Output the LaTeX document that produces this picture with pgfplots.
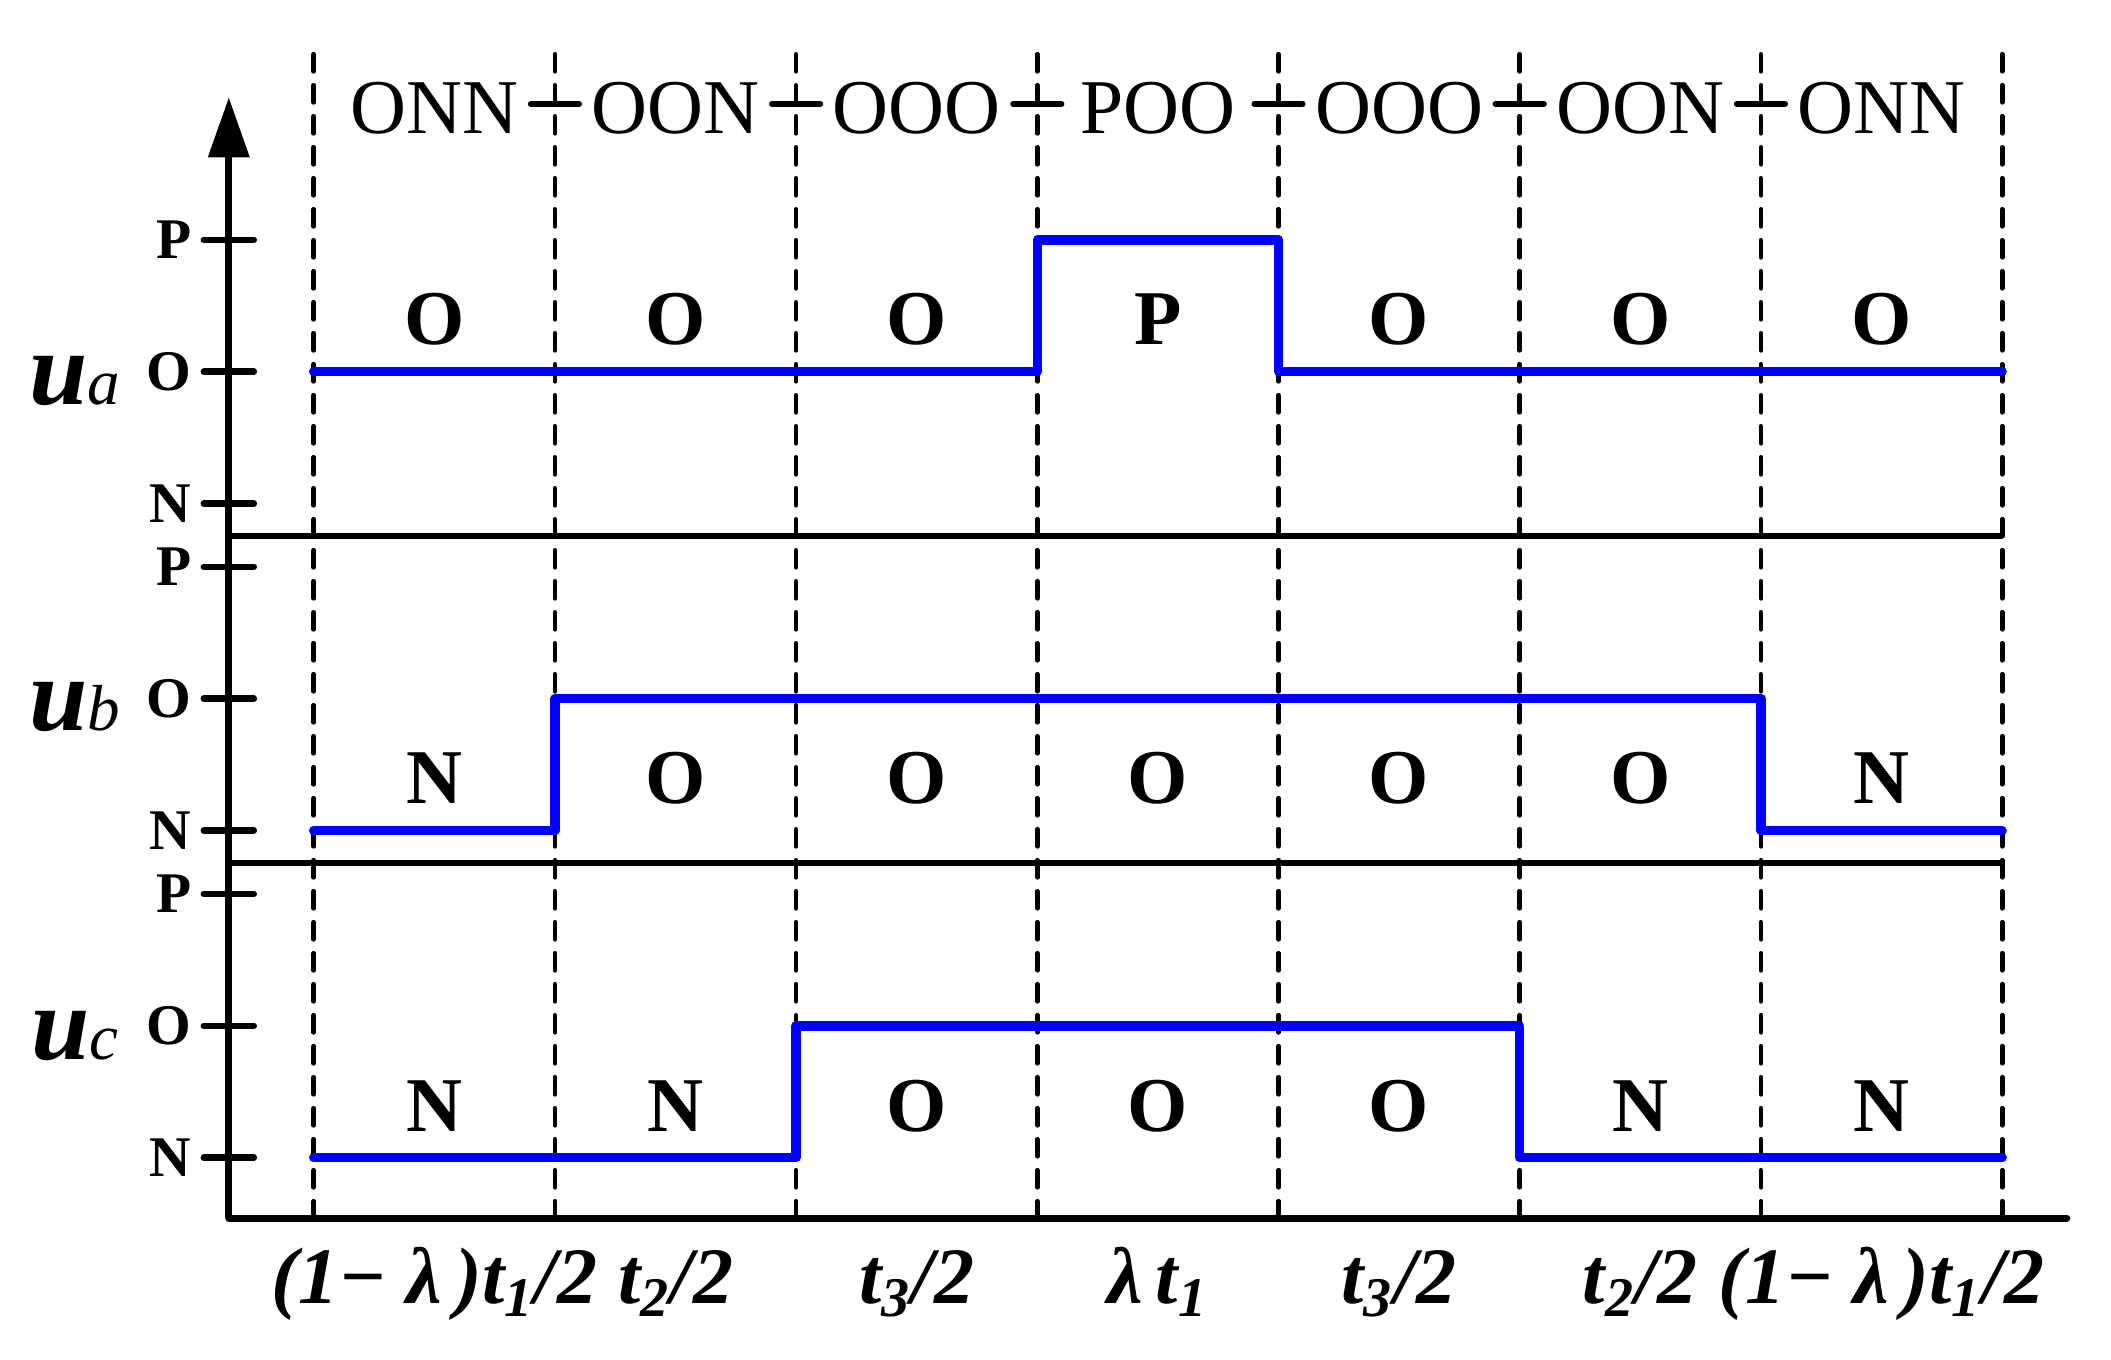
\documentclass[border=0pt]{standalone}
\usepackage{fontspec}
\setmainfont{Liberation Serif}
\usepackage{pgfplots}
\pgfplotsset{compat=1.18}
\usetikzlibrary{arrows.meta}
\definecolor{wave}{RGB}{0,0,255}

% one panel = 2 level units (N, O, P); panels stacked with offset 2.48
\begin{document}
\begin{tikzpicture}[
  seq/.style={font=\fontsize{15.5}{18}\selectfont},
  lev/.style={font=\fontsize{15.5}{18}\selectfont\bfseries}]
\begin{axis}[
  scale only axis, width=367.6pt, height=224.2pt,
  xmin=-0.352, xmax=7.268, ymin=-0.459, ymax=8.04,
  axis x line=bottom, axis y line=left,
  x axis line style={-, line width=1.4pt, line cap=round},
  y axis line style={-{Triangle[length=12pt,width=8pt]}, line width=1.4pt},
  clip=false, unbounded coords=jump,
  tick align=center, major tick length=10pt,
  xtick={0.5,1.5,2.5,3.5,4.5,5.5,6.5},
  xticklabels={{(1− λ\,)t\textsubscript{1}/2},{t\textsubscript{2}/2},{t\textsubscript{3}/2},{λ\,t\textsubscript{1}},{t\textsubscript{3}/2},{t\textsubscript{2}/2},{(1− λ\,)t\textsubscript{1}/2}},
  xtick style={draw=none},
  xticklabel style={font=\fontsize{16}{18}\selectfont\bfseries\itshape, anchor=base, yshift=-12pt},
  ytick={0,1,2,2.48,3.48,4.48,4.96,5.96,6.96},
  yticklabels={N,O,P,N,O,P,N,O,P},
  ytick style={line width=1.3pt, line cap=round, black},
  yticklabel style={font=\fontsize{11.5}{13}\selectfont\bfseries, xshift=1pt},
]
% frame of the picture
\addplot[draw=none] coordinates {(-1.3006,-1.533) (7.4515,8.778)};

% interval boundaries
\addplot[black, line width=0.95pt, line cap=round, dash pattern=on 3.4pt off 2.8pt] coordinates {
  (0,-0.459) (0,8.37) (0,nan)
  (1,-0.459) (1,8.37) (1,nan)
  (2,-0.459) (2,8.37) (2,nan)
  (3,-0.459) (3,8.37) (3,nan)
  (4,-0.459) (4,8.37) (4,nan)
  (5,-0.459) (5,8.37) (5,nan)
  (6,-0.459) (6,8.37) (6,nan)
  (7,-0.459) (7,8.37)};

% panel separators
\addplot[black, line width=1.15pt] coordinates {
  (-0.352,4.714) (7,4.714) (0,nan) (-0.352,2.235) (7,2.235)};

% short dashes between the switching states
\addplot[black, line width=1.2pt, line cap=round] coordinates {
  (0.9,7.99) (1.1,7.99) (1,nan)
  (1.9,7.99) (2.1,7.99) (2,nan)
  (2.9,7.99) (3.1,7.99) (3,nan)
  (3.9,7.99) (4.1,7.99) (4,nan)
  (4.9,7.99) (5.1,7.99) (5,nan)
  (5.9,7.99) (6.1,7.99)};

% u_a
\addplot[wave, line width=1.9pt, line cap=round, line join=round] coordinates {
  (0,5.96) (3,5.96) (3,6.96) (4,6.96) (4,5.96) (7,5.96)};
% u_b
\addplot[wave, line width=1.9pt, line cap=round, line join=round] coordinates {
  (0,2.48) (1,2.48) (1,3.48) (6,3.48) (6,2.48) (7,2.48)};
% u_c
\addplot[wave, line width=1.9pt, line cap=round, line join=round] coordinates {
  (0,0) (2,0) (2,1) (5,1) (5,0) (7,0)};

% state sequence on top
\node[seq] at (axis cs:0.5,7.96) {ONN};
\node[seq] at (axis cs:1.5,7.96) {OON};
\node[seq] at (axis cs:2.5,7.96) {OOO};
\node[seq] at (axis cs:3.5,7.96) {POO};
\node[seq] at (axis cs:4.5,7.96) {OOO};
\node[seq] at (axis cs:5.5,7.96) {OON};
\node[seq] at (axis cs:6.5,7.96) {ONN};
% phase a levels
\node[lev] at (axis cs:0.5,6.36) {O};
\node[lev] at (axis cs:1.5,6.36) {O};
\node[lev] at (axis cs:2.5,6.36) {O};
\node[lev] at (axis cs:3.5,6.36) {P};
\node[lev] at (axis cs:4.5,6.36) {O};
\node[lev] at (axis cs:5.5,6.36) {O};
\node[lev] at (axis cs:6.5,6.36) {O};
% phase b levels
\node[lev] at (axis cs:0.5,2.88) {N};
\node[lev] at (axis cs:1.5,2.88) {O};
\node[lev] at (axis cs:2.5,2.88) {O};
\node[lev] at (axis cs:3.5,2.88) {O};
\node[lev] at (axis cs:4.5,2.88) {O};
\node[lev] at (axis cs:5.5,2.88) {O};
\node[lev] at (axis cs:6.5,2.88) {N};
% phase c levels
\node[lev] at (axis cs:0.5,0.39) {N};
\node[lev] at (axis cs:1.5,0.39) {N};
\node[lev] at (axis cs:2.5,0.39) {O};
\node[lev] at (axis cs:3.5,0.39) {O};
\node[lev] at (axis cs:4.5,0.39) {O};
\node[lev] at (axis cs:5.5,0.39) {N};
\node[lev] at (axis cs:6.5,0.39) {N};

\node at (axis cs:-0.99,5.89) {\fontsize{21}{24}\selectfont\bfseries\itshape u\fontsize{13}{15}\selectfont\mdseries a};
\node at (axis cs:-0.99,3.42) {\fontsize{21}{24}\selectfont\bfseries\itshape u\fontsize{13}{15}\selectfont\mdseries b};
\node at (axis cs:-0.99,0.92) {\fontsize{21}{24}\selectfont\bfseries\itshape u\fontsize{13}{15}\selectfont\mdseries c};
\end{axis}
\end{tikzpicture}
\end{document}
